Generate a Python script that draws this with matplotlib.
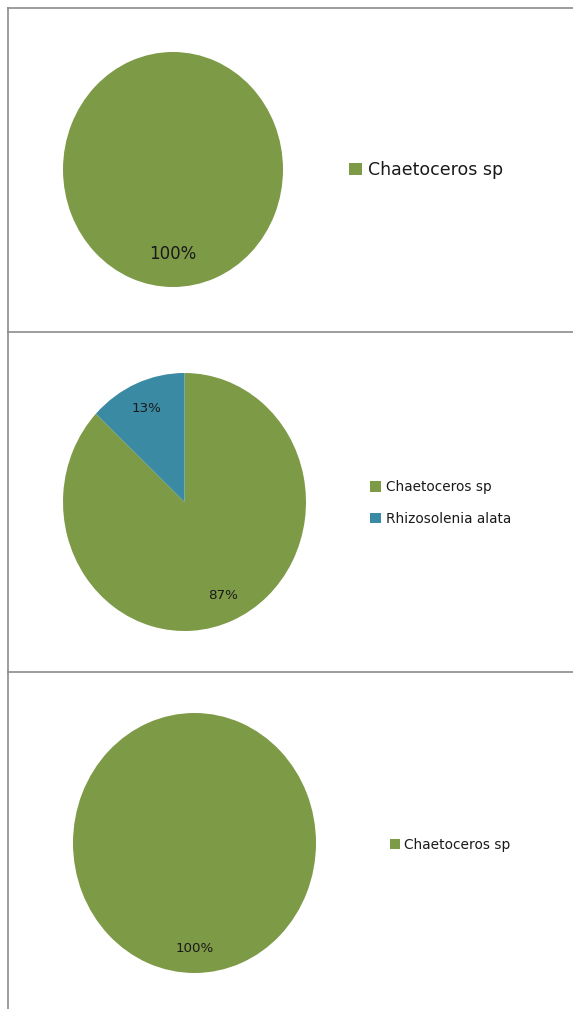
import matplotlib.pyplot as plt
from matplotlib.lines import Line2D

# data for the three pies
species_1 = ["Chaetoceros sp"]
share_1 = [100]

species_2 = ["Chaetoceros sp", "Rhizosolenia alata"]
share_2 = [87, 13]

species_3 = ["Chaetoceros sp"]
share_3 = [100]

colors = {"Chaetoceros sp": "#7d9a47", "Rhizosolenia alata": "#3b8aa3"}

W, H = 573, 1009
fig = plt.figure(figsize=(W / 100, H / 100), dpi=100)
fig.patch.set_facecolor("white")


def px_box(x0, y0, x1, y1):
    # pixel box (top-left origin) -> figure fraction rect
    return [x0 / W, 1 - y1 / H, (x1 - x0) / W, (y1 - y0) / H]


def draw_pie(box, names, values, pct_dist, pct_size, leg_x, leg_y, leg_size, spacing, hl):
    ax = fig.add_axes(px_box(*box))
    wedges, texts, autotexts = ax.pie(
        values,
        colors=[colors[n] for n in names],
        startangle=90,
        counterclock=False,
        autopct="%1.0f%%",
        pctdistance=pct_dist,
        wedgeprops={"linewidth": 0},
        textprops={"fontsize": pct_size, "color": "#1a1a1a"},
    )
    ax.set_aspect("auto")
    ax.set_xlim(-1, 1)
    ax.set_ylim(-1, 1)
    ax.axis("off")
    fig.legend(
        wedges, names,
        loc="center left",
        bbox_to_anchor=(leg_x / W, 1 - leg_y / H),
        frameon=False,
        fontsize=leg_size,
        handlelength=hl,
        handleheight=hl,
        handletextpad=0.35,
        labelspacing=spacing,
        borderpad=0,
        borderaxespad=0,
        labelcolor="#1a1a1a",
    )


draw_pie((63, 52, 283, 287), species_1, share_1, 0.72, 12, 349, 170, 12.5, 0.5, 0.75)
draw_pie((63, 373, 306, 631), species_2, share_2, 0.79, 9.7, 370, 503, 9.8, 1.3, 0.8)
draw_pie((73, 713, 316, 973), species_3, share_3, 0.815, 9.6, 390, 845, 9.9, 0.5, 0.7)

# panel borders
border = "#8c8c8c"
lw = 1.2
fig.add_artist(Line2D([7.5 / W, 7.5 / W], [0, 1 - 7 / H], color=border, lw=lw,
                      solid_capstyle="butt"))
for yy in (7.5, 332, 672):
    fig.add_artist(Line2D([7 / W, 1], [1 - yy / H, 1 - yy / H], color=border, lw=lw,
                          solid_capstyle="butt"))

fig.savefig("out.png", dpi=100, facecolor="white")
